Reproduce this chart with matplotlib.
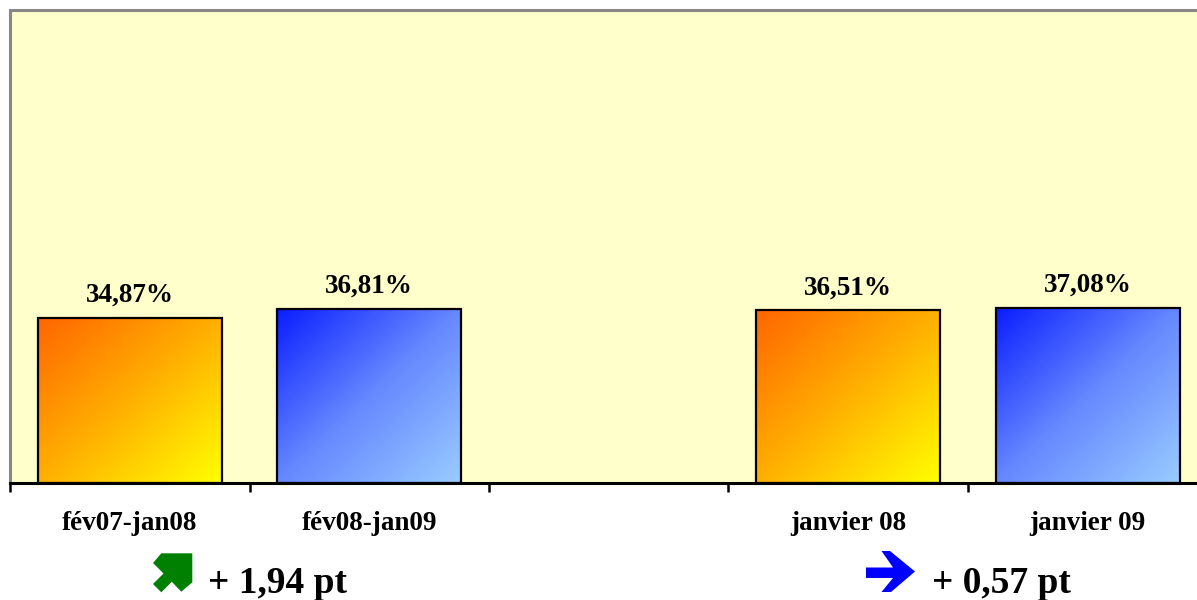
import numpy as np
import matplotlib
matplotlib.use('Agg')
import matplotlib.pyplot as plt
from matplotlib.colors import LinearSegmentedColormap
from matplotlib.patches import Polygon

plt.rcParams['font.family'] = ['Liberation Serif', 'DejaVu Serif']

# ---- data ----
slots = ['fév07-jan08', 'fév08-jan09', '', 'janvier 08', 'janvier 09']
values = [34.87, 36.81, np.nan, 36.51, 37.08]
series = ['prev', 'cur', None, 'prev', 'cur']
pairs = [(0, 1), (3, 4)]

cmaps = {
    'prev': LinearSegmentedColormap.from_list('orange', ['#FF6600', '#FFB000', '#FFFF00']),
    'cur': LinearSegmentedColormap.from_list('blue', ['#0A1EFF', '#6688FF', '#99CCFF']),
}

W, H = 1197, 600
fig = plt.figure(figsize=(W / 100, H / 100), dpi=100)
fig.patch.set_facecolor('white')

ax = fig.add_axes([10 / W, 117 / H, 1197.5 / W, 473 / H])
ax.set_facecolor('#FFFFCC')

width = 0.77
grad = np.add.outer(np.arange(100), np.arange(100)).astype(float)

for i, v in enumerate(values):
    if np.isnan(v):
        continue
    bar = ax.bar(i, v, width, facecolor='none', edgecolor='black', linewidth=1.6, zorder=3)[0]
    im = ax.imshow(grad, cmap=cmaps[series[i]], extent=[i - width / 2, i + width / 2, 0, v],
                   aspect='auto', origin='upper', zorder=2, interpolation='bilinear')
    im.set_clip_path(bar)
    ax.text(i, v + 3.4, f'{v:.2f}%'.replace('.', ','), ha='center', va='baseline',
            fontsize=19.5, fontweight='bold')

ax.set_xlim(-0.5, 4.5)
ax.set_ylim(0, 100)
ax.set_yticks([])

# slot boundary ticks
ax.set_xticks(np.arange(-0.5, 5.0, 1.0))
ax.set_xticklabels([])
ax.tick_params(axis='x', which='major', length=6.5, width=1.8, direction='out')
# category labels
ax.set_xticks(np.arange(len(slots)), minor=True)
ax.set_xticklabels(slots, minor=True, fontsize=19.5, fontweight='bold')
ax.tick_params(axis='x', which='minor', length=0, pad=20)

for side in ['left', 'top']:
    ax.spines[side].set_color('#888888')
    ax.spines[side].set_linewidth(2.2)
ax.spines['right'].set_visible(False)
ax.spines['bottom'].set_color('black')
ax.spines['bottom'].set_linewidth(2.2)
ax.spines['bottom'].set_zorder(4)

# ---- evolution annotations (pixel overlay) ----
ov = fig.add_axes([0, 0, 1, 1], facecolor='none')
ov.set_xlim(0, W)
ov.set_ylim(H, 0)
ov.axis('off')

up_arrow = [(192.3, 553.3), (161.3, 553.3), (153, 563), (163.5, 573.5), (153, 584),
            (161.3, 592.3), (171.8, 581.8), (181.3, 591.7), (192.3, 582.3)]
right_arrow = [(866, 567.5), (893, 567.5), (881.5, 551), (890, 551), (915, 571.5),
               (891, 592), (881.5, 592), (893, 578), (866, 578)]
ov.add_patch(Polygon(up_arrow, closed=True, facecolor='#008000', edgecolor='none'))
ov.add_patch(Polygon(right_arrow, closed=True, facecolor='#0000FF', edgecolor='none'))

text_x = [208, 932]
for (a, b), tx in zip(pairs, text_x):
    delta = values[b] - values[a]
    ov.text(tx, 593, f'+ {delta:.2f} pt'.replace('.', ','), ha='left', va='baseline',
            fontsize=27, fontweight='bold')

fig.savefig('out.png', dpi=100)
